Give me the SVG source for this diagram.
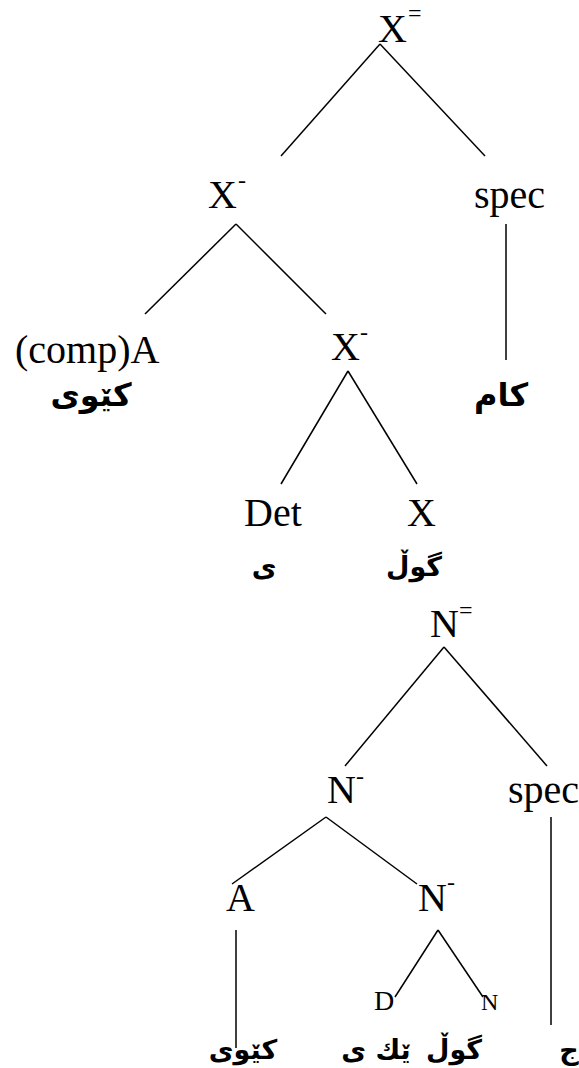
<svg xmlns="http://www.w3.org/2000/svg" width="579" height="1068" viewBox="0 0 579 1068">
<style>
.t{font-family:"Liberation Serif","Times New Roman",serif;font-size:40px;fill:#000}
.s{font-family:"Liberation Serif","Times New Roman",serif;font-size:24px;fill:#000}
.d{font-family:"Liberation Serif","Times New Roman",serif;font-size:28px;fill:#000}
.k{font-family:"DejaVu Sans",sans-serif;font-size:27px;font-weight:bold;fill:#000;text-anchor:middle;direction:rtl}
.kb{font-size:32px}
.e line{stroke:#000;stroke-width:1.5;fill:none}
</style>
<rect width="579" height="1068" fill="#fff"/>
<g id="connectors" class="e">
<line x1="380" y1="44" x2="281" y2="156"/>
<line x1="380" y1="44" x2="485" y2="156"/>
<line x1="236" y1="224" x2="145" y2="314"/>
<line x1="236" y1="224" x2="326" y2="314"/>
<line x1="506" y1="224" x2="506" y2="360"/>
<line x1="348" y1="371" x2="281" y2="484"/>
<line x1="348" y1="371" x2="417" y2="484"/>
<line x1="444" y1="647" x2="345" y2="766"/>
<line x1="444" y1="647" x2="547" y2="766"/>
<line x1="551" y1="817" x2="551" y2="1025"/>
<line x1="326" y1="817" x2="232" y2="884"/>
<line x1="326" y1="817" x2="417" y2="884"/>
<line x1="236" y1="930" x2="236" y2="1048"/>
<line x1="438" y1="930" x2="395" y2="997"/>
<line x1="438" y1="930" x2="483" y2="997"/>
</g>
<g id="n-xbar2"><text class="t" x="378" y="42">X</text><text class="s" x="408" y="21">=</text></g>
<g id="n-xbar1"><text class="t" x="208" y="208">X</text><text class="s" x="238" y="188">-</text></g>
<g id="n-spec1"><text class="t" x="474" y="208">spec</text></g>
<g id="n-comp"><text class="t" x="15" y="363">(comp)A</text></g>
<g id="n-xbar1b"><text class="t" x="331" y="360">X</text><text class="s" x="360" y="340">-</text></g>
<g id="n-k1"><text class="k kb" x="91" y="406">کێوی</text></g>
<g id="n-k2"><text class="k kb" x="501" y="406">کام</text></g>
<g id="n-det"><text class="t" x="244" y="526">Det</text></g>
<g id="n-x"><text class="t" x="407" y="526">X</text></g>
<g id="n-k3"><text class="k" x="264" y="576">ی</text></g>
<g id="n-k4"><text class="k" x="414" y="576">گوڵ</text></g>
<g id="n-nbar2"><text class="t" x="430" y="637">N</text><text class="s" x="459" y="618">=</text></g>
<g id="n-nbar1"><text class="t" x="327" y="803">N</text><text class="s" x="356" y="784">-</text></g>
<g id="n-spec2"><text class="t" x="508" y="803">spec</text></g>
<g id="n-a"><text class="t" x="226" y="911">A</text></g>
<g id="n-nbar1b"><text class="t" x="418" y="911">N</text><text class="s" x="447" y="890">-</text></g>
<g id="n-d"><text class="d" x="374" y="1010">D</text></g>
<g id="n-n"><text class="s" x="481" y="1010">N</text></g>
<g id="n-k5"><text class="k" x="243" y="1059">کێوی</text></g>
<g id="n-k6"><text class="k" x="376" y="1059">ێك ی</text></g>
<g id="n-k7"><text class="k" x="454" y="1059">گوڵ</text></g>
<g id="n-k8"><text class="k" x="569" y="1059">ج</text></g>
</svg>
